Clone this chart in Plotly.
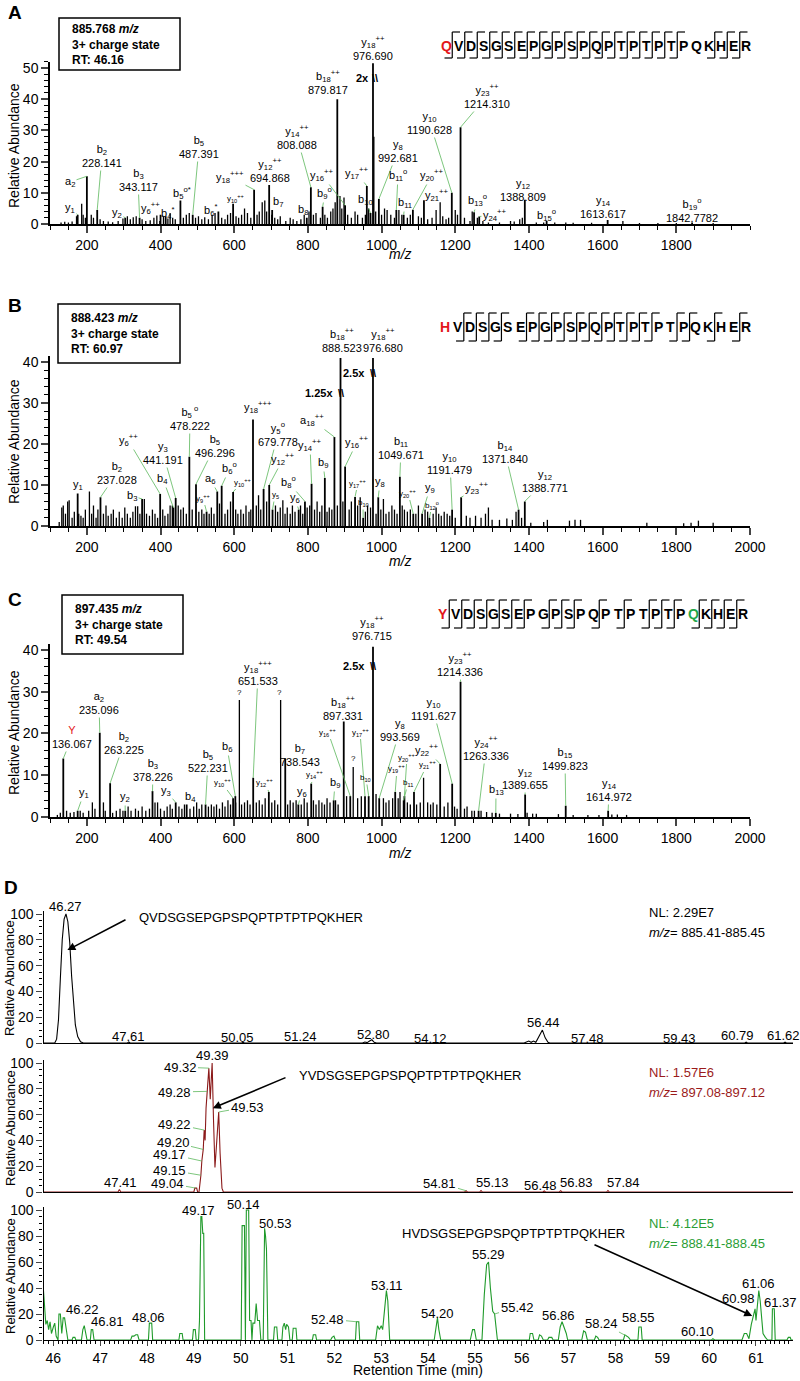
import plotly.graph_objects as go

W, H = 800, 1381
FONT = "Arial, 'Liberation Sans', sans-serif"
GREEN_LEAD = "#5cb85c"

# ======================= DATA =======================
# ---- Panel A : MS/MS of 885.768 (QVDSG...) ----
A_noise_mz = [130, 140, 150, 160, 172, 186, 190, 196, 212, 218, 236, 245, 258, 270, 285, 298, 310, 318, 326, 334,
              350, 360, 372, 382, 390, 398, 408, 420, 426, 433, 440, 462, 470, 478, 495, 503, 512, 520, 530, 540,
              548, 566, 575, 582, 590, 605, 612, 620, 628, 636, 645, 662, 668, 676, 683, 688, 702, 710, 718, 725,
              740, 752, 760, 770, 781, 790, 803, 815, 822, 834, 846, 853, 862, 868, 874, 887, 892, 898, 908, 918,
              928, 935, 948, 956, 965, 979, 984, 1000, 1008, 1015, 1025, 1035, 1047, 1055, 1070, 1078, 1100, 1108,
              1125, 1137, 1148, 1159, 1166, 1175, 1182, 1200, 1206, 1225, 1240, 1246, 1260, 1275, 1290, 1320, 1350,
              1360, 1375, 1382, 1420, 1440, 1470, 1500, 1520, 1570, 1655, 1700, 1750, 1800, 1900]
A_noise_int = [0.5, 0.7, 0.5, 0.8, 2.5, 6.5, 3, 2, 3, 2, 1.5, 1, 0.8, 0.6, 1, 1.8, 2.5, 1.5, 2.2, 2.5,
               1.5, 1, 1.2, 2, 2.7, 1, 2.5, 1.8, 3.5, 2, 1.5, 2, 3, 3.5, 2, 2.5, 1.5, 2.2, 1.5, 3,
               3.5, 2, 1.5, 3, 3.5, 2.5, 2, 3, 5, 3.5, 2, 3, 4, 7, 7.5, 4, 3, 2, 1.5, 2.5,
               1, 2, 1.5, 1, 1.5, 3, 4, 3, 3.5, 2, 3, 2, 4, 5, 7, 9, 5, 8.5, 3, 2,
               4, 3, 2, 3, 5, 28, 4, 3, 5, 4.5, 3, 2, 4.5, 3, 2, 3, 2.5, 2,
               1.5, 2, 4.5, 7, 2.5, 1.5, 2, 4.5, 3, 2, 1, 4, 2, 1, 0.5, 0.5, 1,
               0.8, 1.5, 2, 0.5, 0.5, 0.5, 0.5, 0.4, 0.4, 1.0, 0.3, 0.3, 0.3, 0.3]
A_ion_name = ["y<sub>1</sub>", "a<sub>2</sub>", "b<sub>2</sub>", "y<sub>2</sub>", "b<sub>3</sub>",
              "y<sub>6</sub><sup>++</sup>", "b<sub>4</sub><sup>*</sup>", "b<sub>5</sub><sup>o*</sup>", "b<sub>5</sub>",
              "b<sub>6</sub><sup>*</sup>", "y<sub>10</sub><sup>++</sup>", "y<sub>18</sub><sup>+++</sup>",
              "y<sub>12</sub><sup>++</sup>", "b<sub>7</sub>", "y<sub>14</sub><sup>++</sup>", "b<sub>8</sub>",
              "b<sub>9</sub><sup>o</sup>", "y<sub>16</sub><sup>++</sup>", "b<sub>18</sub><sup>++</sup>",
              "y<sub>17</sub><sup>++</sup>", "y<sub>18</sub><sup>++</sup>", "b<sub>10</sub>", "y<sub>8</sub>",
              "b<sub>11</sub><sup>o</sup>", "b<sub>11</sub>", "y<sub>20</sub><sup>++</sup>", "y<sub>21</sub><sup>++</sup>",
              "y<sub>10</sub>", "y<sub>23</sub><sup>++</sup>", "b<sub>13</sub><sup>o</sup>", "y<sub>24</sub><sup>++</sup>",
              "y<sub>12</sub>", "b<sub>15</sub><sup>o</sup>", "y<sub>14</sub>", "b<sub>19</sub><sup>o</sup>"]
A_ion_value = ["", "", "228.141", "", "343.117", "", "", "", "487.391", "", "", "", "694.868", "", "808.088", "",
               "", "", "879.817", "", "976.690", "", "992.681", "", "", "", "", "1190.628", "1214.310", "", "",
               "1388.809", "", "1613.617", "1842.7782"]
A_ion_mz = [175.1, 200.1, 228.141, 304.2, 343.117, 400.0, 414.0, 454.0, 487.391, 557.0, 597.0, 654.0, 694.868,
            703.0, 808.088, 797.0, 840.0, 901.0, 879.817, 960.0, 976.690, 970.0, 992.681, 1040.0, 1060.0, 1085.0,
            1115.0, 1190.628, 1214.310, 1251.0, 1265.0, 1388.809, 1448.0, 1613.617, 1842.778]
A_ion_int = [3.0, 15.3, 4.5, 2.0, 2.0, 3.0, 2.5, 7.5, 3.0, 4.0, 6.5, 11.0, 12.5, 4.5, 11.8, 2.0, 5.5, 6.0, 40.0,
             12.2, 51.5, 3.5, 8.0, 4.5, 3.0, 4.6, 7.6, 10.0, 31.0, 3.8, 2.4, 7.8, 1.0, 1.3, 0.5]
A_seq = "QVDSGSEPGPSPQPTPTPTPQKHER"
A_gaps = ["by"] * 19 + ["", ""] + ["by"] * 3
A_info = "885.768 <i>m/z</i><br>3+ charge state<br>RT: 46.16"

# ---- Panel B : MS/MS of 888.423 (HVDSG...) ----
B_noise_mz = [125, 132, 136, 142, 148, 152, 160, 166, 178, 184, 190, 196, 207, 213, 218, 225, 230, 245, 252, 258,
              266, 272, 280, 288, 296, 303, 310, 318, 325, 332, 338, 344, 356, 362, 370, 378, 385, 392, 406, 412,
              420, 426, 432, 448, 455, 462, 470, 486, 504, 512, 518, 532, 538, 545, 560, 575, 582, 590, 604, 610,
              618, 625, 632, 640, 645, 660, 666, 672, 688, 712, 718, 725, 732, 738, 744, 752, 758, 765, 780, 786,
              798, 805, 818, 825, 832, 838, 852, 858, 865, 880, 895, 912, 918, 935, 942, 956, 962, 970, 985, 998,
              1005, 1012, 1020, 1028, 1035, 1042, 1056, 1062, 1070, 1078, 1093, 1100, 1118, 1125, 1140, 1148, 1155,
              1162, 1170, 1178, 1185, 1200, 1230, 1240, 1255, 1270, 1282, 1290, 1300, 1320, 1340, 1355, 1365, 1380,
              1405, 1440, 1450, 1510, 1525, 1540, 1720, 1820, 1840, 1860, 1900]
B_noise_int = [1, 4.5, 5, 3, 6, 6.3, 2, 3.5, 3, 2.5, 2, 4, 8.4, 3, 5, 2, 4, 3, 5, 2.5,
               3, 4, 2, 3.5, 2, 4.5, 3, 2, 3.5, 4.8, 4.8, 3, 6.6, 3, 2.5, 4, 3, 2, 4, 2.5,
               3, 5, 5, 5, 4, 4.5, 3, 4, 3.5, 4, 3, 3, 4.5, 3, 5.5, 3, 4, 6, 4, 3,
               4, 3, 5, 3.5, 4, 5, 7.5, 4, 6, 5, 3.5, 4.5, 6.3, 3, 4.5, 3, 5, 3.5, 5, 3,
               4.5, 5, 4, 6, 3.5, 5, 3.5, 4.5, 4, 5, 6, 4, 6, 5, 7, 3.5, 5, 4.5, 3, 4,
               6.6, 3, 3.5, 5, 4, 3, 5, 4, 3.5, 4, 3, 5, 4, 3.5, 3, 4.5, 3,
               2.5, 3.5, 3, 2.5, 2, 2.5, 2, 2.5, 2, 3, 4.5, 1.5, 1.5, 1.8, 1.5, 3.5, 2,
               0.8, 1, 1.5, 1.3, 1.5, 1.5, 0.8, 0.7, 0.8, 1.3, 0.8]
B_ion_name = ["y<sub>1</sub>", "b<sub>2</sub>", "b<sub>3</sub>", "y<sub>6</sub><sup>++</sup>", "y<sub>3</sub>",
              "b<sub>4</sub>", "b<sub>5</sub><sup> o</sup>", "b<sub>5</sub>", "y<sub>9</sub><sup>++</sup>", "a<sub>6</sub>",
              "b<sub>6</sub><sup>o</sup>", "y<sub>10</sub><sup>++</sup>", "y<sub>18</sub><sup>+++</sup>",
              "y<sub>5</sub><sup>o</sup>", "y<sub>12</sub><sup>++</sup>", "y<sub>5</sub>", "y<sub>14</sub><sup>++</sup>",
              "b<sub>8</sub><sup>o</sup>", "y<sub>6</sub>", "b<sub>9</sub>", "a<sub>18</sub><sup>++</sup>",
              "b<sub>18</sub><sup>++</sup>", "y<sub>16</sub><sup>++</sup>", "y<sub>17</sub><sup>++</sup>", "b<sub>10</sub>",
              "y<sub>18</sub><sup>++</sup>", "y<sub>8</sub>", "b<sub>11</sub>", "y<sub>20</sub><sup>++</sup>",
              "y<sub>9</sub>", "b<sub>12</sub><sup>o</sup>", "y<sub>10</sub>", "y<sub>23</sub><sup>++</sup>",
              "b<sub>14</sub>", "y<sub>12</sub>"]
B_ion_value = ["", "237.028", "", "", "441.191", "", "478.222", "496.296", "", "", "", "", "", "679.778", "", "",
               "", "", "", "", "", "888.523", "", "", "", "976.680", "", "1049.671", "", "", "", "1191.479", "",
               "1371.840", "1388.771"]
B_ion_mz = [175.1, 237.028, 350.0, 399.0, 441.191, 435.0, 478.222, 496.296, 525.0, 554.0, 566.0, 597.0, 651.0,
            679.778, 695.0, 704.0, 810.0, 792.0, 775.0, 846.0, 872.0, 888.523, 901.0, 928.0, 950.0, 976.680, 991.0,
            1049.671, 1086.0, 1110.0, 1130.0, 1191.479, 1216.0, 1371.840, 1388.771]
B_ion_int = [7.9, 7.0, 6.6, 7.8, 6.8, 4.5, 16.9, 10.2, 3.5, 8.4, 9.8, 8.3, 26.0, 9.0, 10.0, 4.0, 10.3, 6.0, 4.0,
             11.7, 21.7, 41.0, 14.5, 7.1, 2.0, 41.0, 7.0, 12.0, 3.0, 3.0, 2.0, 4.0, 7.0, 4.0, 6.0]
B_seq = "HVDSGSEPGPSPQPTPTPTPQKHER"
B_gaps = ["", "by", "by", "by", "by", "", "by", "by", "by", "by", "by", "by", "by", "by", "by", "by", "by", "",
          "by", "by", "", "by", "", "by"]
B_info = "888.423 <i>m/z</i><br>3+ charge state<br>RT: 60.97"

# ---- Panel C : MS/MS of 897.435 (YVDSG...) ----
C_noise_mz = [120, 128, 145, 155, 165, 182, 190, 205, 215, 222, 245, 250, 270, 280, 290, 298, 312, 320, 332, 340,
              350, 360, 370, 385, 392, 400, 410, 418, 426, 432, 450, 458, 465, 480, 490, 498, 505, 512, 530, 538,
              545, 552, 560, 568, 575, 583, 590, 604, 614, 620, 628, 636, 643, 660, 668, 676, 684, 702, 710, 718,
              726, 745, 752, 760, 768, 782, 790, 798, 815, 822, 830, 838, 845, 852, 860, 875, 882, 905, 923, 935,
              945, 985, 1005, 1012, 1020, 1030, 1045, 1050, 1070, 1078, 1095, 1105, 1114, 1125, 1133, 1140, 1150,
              1170, 1180, 1198, 1205, 1225, 1232, 1245, 1252, 1270, 1285, 1300, 1320, 1350, 1370, 1395, 1410, 1420,
              1480, 1520, 1560, 1590, 1625, 1640, 1665]
C_noise_int = [0.5, 1, 1.5, 1, 1.2, 1.5, 1, 1.5, 3.5, 2, 3.5, 1.5, 1, 1.5, 2, 1.5, 2.5, 1.5, 2, 1.5,
               2.5, 1.5, 2, 3.5, 3.5, 2, 1.5, 2.5, 3, 2, 2.5, 2, 3, 2, 2.5, 3.5, 2, 3, 2.5, 3,
               2.5, 3, 2, 3.5, 2.5, 4, 3, 3.5, 28, 3, 3.5, 4, 3, 3.5, 4, 3, 4.5, 3.5, 4, 3,
               28, 3, 4, 3.5, 4, 3, 4.5, 3.5, 4, 3, 4, 3.5, 3, 4.5, 3.5, 4, 3, 5, 12, 4.5,
               5, 5.5, 4.5, 3.5, 4, 4.5, 4.5, 6, 3.5, 3, 3, 3.5, 9.4, 3.5, 3, 3.5, 3,
               2.5, 3.5, 2.5, 2, 2, 2.5, 1.5, 1.5, 1.5, 1.2, 1, 0.8, 0.8, 0.7, 1, 0.8, 0.8,
               0.7, 0.5, 0.5, 0.5, 0.6, 0.6, 0.5]
C_ion_name = ["<span style='color:#e3171b'>Y</span>", "y<sub>1</sub>", "a<sub>2</sub>", "b<sub>2</sub>",
              "y<sub>2</sub>", "b<sub>3</sub>", "y<sub>3</sub>", "b<sub>4</sub>", "b<sub>5</sub>", "b<sub>6</sub>",
              "y<sub>10</sub><sup>++</sup>", "y<sub>18</sub><sup>+++</sup>", "y<sub>12</sub><sup>++</sup>",
              "b<sub>7</sub>", "y<sub>6</sub>", "y<sub>14</sub><sup>++</sup>", "b<sub>9</sub>",
              "b<sub>18</sub><sup>++</sup>", "y<sub>16</sub><sup>++</sup>", "y<sub>17</sub><sup>++</sup>",
              "b<sub>10</sub>", "y<sub>18</sub><sup>++</sup>", "y<sub>8</sub>", "y<sub>19</sub><sup>++</sup>",
              "y<sub>20</sub><sup>++</sup>", "b<sub>11</sub>", "y<sub>21</sub><sup>++</sup>",
              "y<sub>22</sub><sup>++</sup>", "y<sub>10</sub>", "y<sub>23</sub><sup>++</sup>",
              "y<sub>24</sub><sup>++</sup>", "b<sub>13</sub>", "y<sub>12</sub>", "b<sub>15</sub>", "y<sub>14</sub>"]
C_ion_value = ["136.067", "", "235.096", "263.225", "", "378.226", "", "", "522.231", "", "", "651.533", "",
               "738.543", "", "", "", "897.331", "", "", "", "976.715", "993.569", "", "", "", "", "", "1191.627",
               "1214.336", "1263.336", "", "1389.655", "1499.823", "1614.972"]
C_ion_mz = [136.067, 175.1, 235.096, 263.225, 304.2, 378.226, 441.2, 471.0, 522.231, 603.0, 597.0, 651.533, 694.0,
            738.543, 774.0, 809.0, 870.0, 897.331, 915.0, 955.0, 965.0, 976.715, 993.569, 1037.0, 1062.0, 1060.0,
            1088.0, 1159.0, 1191.627, 1214.336, 1263.336, 1310.0, 1389.655, 1499.823, 1614.972]
C_ion_int = [14.0, 1.5, 20.2, 8.1, 1.5, 6.2, 3.5, 3.0, 3.0, 5.0, 4.5, 9.4, 6.0, 14.0, 3.0, 8.0, 4.0, 22.9, 5.0,
             5.0, 5.0, 40.8, 4.5, 6.0, 5.0, 4.0, 6.0, 12.7, 8.0, 32.4, 1.5, 1.0, 5.4, 2.7, 1.5]
C_seq = "YVDSGSEPGPSPQPTPTPTPQKHER"
C_gaps = ["by", "by", "by", "by", "by", "by", "by", "", "by", "by", "by", "", "by", "", "by", "", "by", "by", "by",
          "", "by", "by", "by", "by"]
C_info = "897.435 <i>m/z</i><br>3+ charge state<br>RT: 49.54"

# ---- Panel D : extracted ion chromatograms ----
D1_time = [45.79, 46.03, 46.07, 46.11, 46.15, 46.19, 46.23, 46.27, 46.31, 46.35, 46.39, 46.43, 46.47, 46.52, 46.58,
           46.64, 47.58, 47.61, 47.64, 50.02, 50.05, 50.08, 51.21, 51.24, 51.27, 52.6, 52.65, 52.7, 52.75, 52.8,
           52.85, 52.9, 54.09, 54.12, 54.15, 56.05, 56.1, 56.15, 56.2, 56.25, 56.3, 56.37, 56.44, 56.5, 56.56, 56.6,
           57.45, 57.48, 57.51, 59.4, 59.43, 59.46, 60.76, 60.79, 60.82, 61.59, 61.62, 61.65, 61.79]
D1_int = [0, 0, 3, 18, 50, 80, 96, 100, 94, 78, 52, 30, 14, 5, 1,
          0, 0, 0.8, 0, 0, 0.5, 0, 0, 0.5, 0, 0, 0.8, 0.3, 1.5, 2.5,
          0.5, 0, 0, 0.4, 0, 0, 0.8, 1.5, 0.5, 1.5, 0.5, 5, 10, 4, 0.5, 0,
          0, 0.4, 0, 0, 0.3, 0, 0, 0.6, 0, 0, 0.6, 0, 0]
D2_time = [45.79, 47.38, 47.41, 47.44, 49.0, 49.02, 49.06, 49.08, 49.11, 49.13, 49.15, 49.17, 49.20, 49.22, 49.24,
           49.26, 49.28, 49.30, 49.32, 49.35, 49.37, 49.39, 49.42, 49.45, 49.49, 49.53, 49.56, 49.6, 49.63, 54.78,
           54.81, 54.84, 55.10, 55.13, 55.16, 56.45, 56.48, 56.51, 56.80, 56.83, 56.86, 57.81, 57.84, 57.87, 61.79]
D2_int = [0, 0, 2, 0, 0, 3, 3, 0, 0, 5, 13, 24, 33, 48, 40,
          65, 78, 90, 96, 72, 90, 100, 55, 19, 40, 62, 30, 3, 0, 0,
          1, 0, 0, 1.2, 0, 0, 0.8, 0, 0, 1, 0, 0, 1.2, 0, 0]
D3_time = [45.79, 45.81, 45.84, 45.87, 45.9, 45.93, 45.96, 46.0, 46.03, 46.06, 46.1, 46.12, 46.15, 46.18, 46.21,
           46.24, 46.28, 46.31, 46.4, 46.42, 46.46, 46.48, 46.6, 46.63, 46.66, 46.69, 46.72, 46.79, 46.81, 46.84,
           46.87, 47.65, 47.68, 47.72, 47.76, 47.8, 47.83, 48.03, 48.05, 48.1, 48.12, 48.68, 48.7, 48.75, 48.77,
           48.97, 48.99, 49.03, 49.05, 49.1, 49.12, 49.15, 49.17, 49.19, 49.21, 49.23, 50.01, 50.03, 50.08, 50.1,
           50.12, 50.17, 50.19, 50.22, 50.24, 50.26, 50.3, 50.33, 50.36, 50.4, 50.43, 50.48, 50.51, 50.53, 50.55,
           50.58, 50.7, 50.72, 50.77, 50.79, 50.88, 50.9, 50.93, 50.96, 50.98, 51.02, 51.05, 51.1, 51.12, 51.18,
           51.2, 51.53, 51.55, 51.6, 51.62, 51.92, 51.95, 51.99, 52.02, 52.45, 52.47, 52.52, 52.54, 52.88, 52.92,
           52.96, 53.0, 53.03, 53.06, 53.11, 53.14, 53.18, 54.13, 54.17, 54.2, 54.23, 54.27, 54.9, 54.95, 54.99,
           55.03, 55.15, 55.2, 55.25, 55.29, 55.33, 55.38, 55.42, 55.45, 55.48, 56.16, 56.18, 56.23, 56.26, 56.35,
           56.38, 56.42, 56.46, 56.55, 56.58, 56.64, 56.67, 56.78, 56.82, 56.86, 56.9, 56.95, 56.98, 57.28, 57.32,
           57.36, 57.4, 57.55, 57.58, 57.62, 57.65, 58.17, 58.2, 58.24, 58.28, 58.32, 58.48, 58.5, 58.55, 58.57,
           60.05, 60.08, 60.12, 60.7, 60.75, 60.8, 60.85, 60.9, 60.95, 60.98, 61.0, 61.04, 61.06, 61.09, 61.12,
           61.15, 61.2, 61.25, 61.34, 61.35, 61.39, 61.41, 61.66, 61.69, 61.73, 61.75, 61.79]
D3_int = [38, 27, 12, 15, 8, 14, 5, 10, 13, 3, 0, 20, 20, 5, 17,
          17, 5, 0, 0, 2, 2, 0, 0, 8, 11, 6, 0, 0, 8, 8,
          0, 0, 3, 3, 4, 4, 0, 0, 13, 13, 0, 0, 5, 5, 0,
          0, 8, 8, 0, 0, 15, 95, 95, 82, 82, 0, 0, 88, 88, 0,
          100, 100, 15, 15, 0, 13, 13, 28, 15, 15, 0, 0, 86, 80, 70,
          0, 0, 10, 10, 0, 0, 10, 13, 8, 12, 10, 0, 0, 9, 9,
          0, 0, 4, 4, 0, 0, 2, 3, 0, 0, 14, 14, 0, 0, 11,
          8, 11, 8, 22, 38, 30, 0, 0, 12, 17, 8, 0, 0, 8, 8,
          0, 0, 35, 58, 60, 40, 22, 20, 8, 0, 0, 5, 5, 0, 0,
          4, 3, 0, 0, 2, 2, 0, 0, 10, 14, 10, 5, 0, 0, 7,
          6, 0, 0, 3, 2, 0, 0, 4, 3, 2, 0, 0, 10, 10, 0,
          0, 1, 0, 0, 5, 5, 1, 12, 20, 24, 15, 30, 38, 30, 15,
          5, 2, 0, 0, 24, 24, 0, 0, 2, 2, 0, 0]
D_seq_names = ["QVDSGSEPGPSPQPTPTPTPQKHER", "YVDSGSEPGPSPQPTPTPTPQKHER", "HVDSGSEPGPSPQPTPTPTPQKHER"]
D_nl = ["NL: 2.29E7", "NL: 1.57E6", "NL: 4.12E5"]
D_mzrange = ["885.41-885.45", "897.08-897.12", "888.41-888.45"]
D1_peak_lbl = ["46.27", "47.61", "50.05", "51.24", "52.80", "54.12", "56.44", "57.48", "59.43", "60.79", "61.62"]
D1_peak_int = [100, 0.8, 0.5, 0.5, 2.5, 0.4, 10, 0.4, 0.3, 0.6, 0.6]
D2_peak_lbl = ["49.39", "49.32", "49.28", "49.53", "49.22", "49.20", "49.17", "49.15", "49.04", "47.41", "54.81",
               "55.13", "56.48", "56.83", "57.84"]
D2_peak_int = [100, 96, 78, 62, 48, 33, 24, 13, 3, 2, 1, 1.2, 0.8, 1, 1.2]
D3_peak_lbl = ["49.17", "50.14", "50.53", "53.11", "46.22", "46.81", "48.06", "52.48", "54.20", "55.29", "55.42",
               "56.86", "58.24", "58.55", "60.10", "60.98", "61.06", "61.37"]
D3_peak_int = [95, 100, 86, 38, 17, 8, 13, 14, 17, 60, 20, 14, 3, 10, 1, 24, 38, 24]

# ======================= LAYOUT (pixel geometry) =======================
SX0, SX1 = 50, 750            # spectrum x-axis pixels
MZ0, MZ1 = 100, 2000
DX0, DX1 = 43.5, 793          # chromatogram x-axis pixels
T0, T1 = 45.79, 61.79

PAN = {
    "A": dict(base=224, scale=3.12, top=52),
    "B": dict(base=526, scale=4.1, top=41.5),
    "C": dict(base=817, scale=4.175, top=41.5),
    "D1": dict(base=1043, scale=1.29, top=102),
    "D2": dict(base=1192, scale=1.29, top=102),
    "D3": dict(base=1340, scale=1.3, top=102),
}


def ydom(p):
    b, s, t = p["base"], p["scale"], p["top"]
    return [1 - b / H, 1 - (b - t * s) / H]


def spx(mz):
    return SX0 + (mz - MZ0) * (SX1 - SX0) / (MZ1 - MZ0)


def dpx(t):
    return DX0 + (t - T0) * (DX1 - DX0) / (T1 - T0)


def ptext(px, py, text, size, color="black", xanchor="center", angle=0, align="center"):
    return dict(x=px / W, y=1 - py / H, xref="paper", yref="paper", text=text, showarrow=False,
                xanchor=xanchor, yanchor="middle", textangle=angle, align=align,
                font=dict(size=size, color=color, family=FONT))


A_lbl = [(70, 208, 1, 0), (70, 182, 1, 0), (102, 156, 1, 0), (117, 213, 1, 0), (138, 180, 1, 0), (150, 208, 1, 0),
         (168, 213, 1, 0), (182, 193, 0, 0), (199, 147, 1, 0), (210, 210, 1, 0), (235, 198, 1, 1), (230, 177, 1, 0),
         (270, 170, 1, 0), (278, 202, 1, 0), (297, 137, 1, 0), (303, 210, 1, 0), (325, 193, 1, 0), (322, 175, 1, 0),
         (328, 82, 0, 0), (357, 173, 1, 0), (373, 48, 0, 0), (365, 200, 1, 0), (398, 151, 1, 0), (398, 175, 1, 0),
         (405, 203, 1, 0), (432, 175, 1, 0), (437, 195, 1, 0), (430, 123, 1, 0), (487, 96, 1, 0), (478, 200, 1, 0),
         (495, 215, 1, 0), (523, 190, 1, 0), (547, 215, 1, 0), (603, 207, 1, 0), (692, 210, 1, 0)]
B_lbl = [(78, 485, 0, 0), (117, 473, 1, 0), (132, 496, 1, 0), (128, 440, 1, 0), (163, 453, 1, 0), (163, 479, 1, 0),
         (190, 418, 1, 0), (215, 446, 1, 0), (203, 498, 1, 1), (210, 479, 1, 0), (230, 468, 1, 0), (242, 482, 1, 1),
         (258, 407, 0, 0), (278, 434, 1, 0), (283, 459, 1, 0), (275, 495, 1, 1), (310, 445, 1, 0), (288, 482, 1, 0),
         (295, 498, 1, 0), (323, 463, 1, 0), (312, 420, 1, 0), (342, 340, 0, 0), (357, 442, 1, 0), (358, 483, 1, 1),
         (363, 503, 1, 1), (383, 340, 0, 0), (380, 482, 1, 0), (401, 448, 1, 0), (408, 493, 1, 1), (430, 488, 1, 0),
         (432, 505, 1, 1), (450, 463, 1, 0), (477, 488, 1, 0), (505, 452, 1, 0), (545, 481, 1, 0)]
C_lbl = [(72, 737, 1, 0), (84, 793, 1, 0), (99, 703, 1, 0), (124, 743, 1, 0), (125, 797, 1, 0), (153, 770, 1, 0),
         (166, 791, 1, 0), (191, 797, 1, 0), (208, 761, 1, 0), (227, 747, 1, 0), (222, 783, 1, 1), (258, 673, 1, 0),
         (265, 783, 1, 1), (300, 755, 1, 0), (302, 792, 1, 0), (315, 775, 1, 1), (335, 783, 1, 0), (343, 708, 1, 0),
         (328, 732, 1, 1), (360, 732, 1, 1), (366, 778, 1, 1), (372, 628, 0, 0), (400, 730, 1, 0), (397, 769, 1, 1),
         (407, 757, 1, 1), (408, 783, 1, 1), (427, 765, 1, 1), (427, 750, 1, 0), (433, 709, 1, 0), (460, 664, 1, 0),
         (486, 748, 1, 0), (496, 790, 1, 0), (525, 778, 1, 0), (565, 759, 1, 0), (609, 790, 1, 0)]

fig = go.Figure()
axes_spec = {"A": ("x", "y"), "B": ("x2", "y2"), "C": ("x3", "y3")}
axes_d = {"D1": ("x4", "y4"), "D2": ("x5", "y5"), "D3": ("x6", "y6")}
annotations = []
shapes = []


def add_sticks(mzs, ints, xa, ya, width=1.6):
    xs, ys = [], []
    for m, v in zip(mzs, ints):
        xs += [m, m, None]
        ys += [0, v, None]
    fig.add_trace(go.Scatter(x=xs, y=ys, mode="lines", xaxis=xa, yaxis=ya,
                             line=dict(color="black", width=width), hoverinfo="skip", showlegend=False))


def add_spectrum(key, noise_mz, noise_int, names, values, mzs, ints, lbl, seq, gaps, info, seq_geom,
                 info_box, red_idx, green_idx, breaks):
    xa, ya = axes_spec[key]
    p = PAN[key]
    add_sticks(noise_mz, noise_int, xa, ya, 1.3)
    add_sticks(mzs, ints, xa, ya, 1.8)
    for name, val, m, v, (lx, ly, lead, small) in zip(names, values, mzs, ints, lbl):
        txt = name + ("<br>" + val if val else "")
        fs = 8 if small else 11
        hx, hy = spx(m), p["base"] - v * p["scale"]
        if lead:
            annotations.append(dict(x=m, y=v, xref=xa, yref=ya, text=txt, showarrow=True, arrowhead=0,
                                    arrowwidth=0.8, arrowcolor=GREEN_LEAD, ax=lx - hx, ay=ly - hy, standoff=0,
                                    font=dict(size=fs, color="black", family=FONT), align="center"))
        else:
            annotations.append(ptext(lx, ly, txt, fs))
    for (bx, by, btxt) in breaks:
        annotations.append(ptext(bx, by, "<b>" + btxt + "</b>", 11, xanchor="right"))
    x0, y0, x1, y1 = info_box
    shapes.append(dict(type="rect", xref="paper", yref="paper", x0=x0 / W, x1=x1 / W, y0=1 - y1 / H,
                       y1=1 - y0 / H, line=dict(color="black", width=1.5)))
    annotations.append(ptext(x0 + 11, (y0 + y1) / 2, "<b>" + info + "</b>", 12, xanchor="left", align="left"))
    sx0, sx1, yc, ytop, ybot = seq_geom
    n = len(seq)
    step = (sx1 - sx0) / (n - 1)
    for i, ch in enumerate(seq):
        col = "black"
        if i == red_idx:
            col = "#e3171b"
        if i == green_idx:
            col = "#1fa84a"
        annotations.append(ptext(sx0 + i * step, yc, "<b>" + ch + "</b>", 14, color=col))
    hook = step * 0.62
    for i, g in enumerate(gaps):
        if not g:
            continue
        xs = sx0 + (i + 0.5) * step
        shapes.append(dict(type="line", xref="paper", yref="paper", x0=xs / W, x1=xs / W, y0=1 - ybot / H,
                           y1=1 - ytop / H, line=dict(color="black", width=1.2)))
        if "b" in g:
            shapes.append(dict(type="line", xref="paper", yref="paper", x0=xs / W, x1=(xs + hook) / W,
                               y0=1 - ytop / H, y1=1 - ytop / H, line=dict(color="black", width=1.2)))
        if "y" in g:
            shapes.append(dict(type="line", xref="paper", yref="paper", x0=(xs - hook) / W, x1=xs / W,
                               y0=1 - ybot / H, y1=1 - ybot / H, line=dict(color="black", width=1.2)))


add_spectrum("A", A_noise_mz, A_noise_int, A_ion_name, A_ion_value, A_ion_mz, A_ion_int, A_lbl, A_seq, A_gaps,
             A_info, (446, 746, 46, 32, 58), (59, 18, 180, 70), 0, -1,
             [(371, 78, "2x"), (380, 78, "\\\\")])
add_spectrum("B", B_noise_mz, B_noise_int, B_ion_name, B_ion_value, B_ion_mz, B_ion_int, B_lbl, B_seq, B_gaps,
             B_info, (445, 746, 327, 313, 341), (58, 304, 180, 363), 0, -1,
             [(335, 393, "1.25x"), (346, 393, "\\\\"), (367, 373, "2.5x"), (378, 373, "\\\\")])
add_spectrum("C", C_noise_mz, C_noise_int, C_ion_name, C_ion_value, C_ion_mz, C_ion_int, C_lbl, C_seq, C_gaps,
             C_info, (443, 743, 614, 600, 628), (62, 595, 183, 654), 0, 20,
             [(367, 666, "2.5x"), (378, 666, "\\\\")])

for qx, qy in [(239, 692), (279, 692), (353, 758)]:
    annotations.append(ptext(qx, qy, "?", 8))

# ---- chromatograms ----
D_col = ["black", "#8b1a1a", "#1f9a2a"]
D_txtcol = ["black", "#9b1b1b", "#2a9d35"]
for (key, tt, vv, col) in [("D1", D1_time, D1_int, D_col[0]), ("D2", D2_time, D2_int, D_col[1]),
                           ("D3", D3_time, D3_int, D_col[2])]:
    xa, ya = axes_d[key]
    fig.add_trace(go.Scatter(x=tt, y=vv, mode="lines", xaxis=xa, yaxis=ya, line=dict(color=col, width=1.1),
                             hoverinfo="skip", showlegend=False))

D1_pos = [(65, 906, 0), (128, 1036, 0), (237, 1037, 0), (300, 1036, 0), (373, 1034, 0), (430, 1038, 0),
          (543, 1022, 0), (587, 1038, 0), (679, 1038, 0), (737, 1035, 0), (783, 1035, 0)]
D2_pos = [(212, 1055, 0), (180, 1067, 1), (175, 1092, 1), (247, 1107, 1), (175, 1124, 1), (173, 1142, 1),
          (170, 1154, 1), (170, 1170, 1), (168, 1183, 1), (120, 1182, 0), (440, 1183, 1), (492, 1182, 0),
          (540, 1185, 0), (576, 1182, 1), (623, 1182, 0)]
D3_pos = [(198, 1210, 0), (243, 1204, 0), (275, 1223, 0), (387, 1285, 0), (83, 1309, 1), (108, 1321, 1),
          (148, 1317, 0), (328, 1319, 1), (437, 1313, 0), (488, 1254, 0), (517, 1307, 1), (558, 1315, 0),
          (602, 1323, 1), (638, 1317, 0), (697, 1331, 0), (738, 1298, 0), (758, 1283, 0), (780, 1302, 0)]

for key, labels, ints, pos in [("D1", D1_peak_lbl, D1_peak_int, D1_pos), ("D2", D2_peak_lbl, D2_peak_int, D2_pos),
                               ("D3", D3_peak_lbl, D3_peak_int, D3_pos)]:
    xa, ya = axes_d[key]
    p = PAN[key]
    for lab, v, (lx, ly, lead) in zip(labels, ints, pos):
        t = float(lab)
        if lead:
            hx, hy = dpx(t), p["base"] - v * p["scale"]
            annotations.append(dict(x=t, y=v, xref=xa, yref=ya, text=lab, showarrow=True, arrowhead=0,
                                    arrowwidth=0.8, arrowcolor=GREEN_LEAD, ax=lx - hx, ay=ly - hy, standoff=0,
                                    font=dict(size=13, color="black", family=FONT)))
        else:
            annotations.append(ptext(lx, ly, lab, 13))

seq_text_pos = [(137, 917), (297, 1075), (400, 1233)]
seq_arrow = [((127, 919), ("D1", 46.3, 72)), ((287, 1077), ("D2", 49.405, 65)), ((593, 1244), ("D3", 60.92, 18.5))]
for name, (tx, ty), ((ax0, ay0), (key, t, v)) in zip(D_seq_names, seq_text_pos, seq_arrow):
    annotations.append(ptext(tx, ty, name, 13, xanchor="left"))
    xa, ya = axes_d[key]
    p = PAN[key]
    hx, hy = dpx(t), p["base"] - v * p["scale"]
    annotations.append(dict(x=t, y=v, xref=xa, yref=ya, text="", showarrow=True, arrowhead=2, arrowsize=1,
                            arrowwidth=1.6, arrowcolor="black", ax=ax0 - hx, ay=ay0 - hy, standoff=0))

nl_y = [(912, 932), (1072, 1092), (1223, 1243)]
for nl, rng, (y1, y2), col in zip(D_nl, D_mzrange, nl_y, D_txtcol):
    annotations.append(ptext(647, y1, nl, 13, color=col, xanchor="left"))
    annotations.append(ptext(647, y2, "<i>m/z</i>= " + rng, 13, color=col, xanchor="left"))

for letter, (lx, ly) in zip("ABCD", [(15, 13), (15, 305), (15, 599), (11, 888)]):
    annotations.append(ptext(lx, ly, "<b>" + letter + "</b>", 19))

for cy in [146, 442, 733]:
    annotations.append(ptext(14, cy, "Relative Abundance", 14, angle=-90))
for cy in [978, 1128, 1276]:
    annotations.append(ptext(10, cy, "Relative Abundance", 13, angle=-90))
for cy in [254, 561, 853]:
    annotations.append(ptext(400, cy, "<i>m/z</i>", 14))
annotations.append(ptext(418, 1370, "Retention Time (min)", 14))

# ---- axes ----
tickfont = dict(size=14, color="black", family=FONT)
layout_axes = {}
for i, key in enumerate(["A", "B", "C"], start=1):
    sfx = "" if i == 1 else str(i)
    tv = list(range(200, 1801 if key == "A" else 2001, 200))
    layout_axes["xaxis" + sfx] = dict(domain=[SX0 / W, SX1 / W], range=[MZ0, MZ1], anchor="y" + sfx,
                                      tickmode="array", tickvals=tv, ticks="outside", ticklen=7, tickwidth=1.5,
                                      showline=True, linewidth=1.5, linecolor="black", showgrid=False,
                                      zeroline=False, tickfont=tickfont, automargin=False,
                                      minor=dict(tick0=0, dtick=50, ticks="outside", ticklen=4, tickwidth=1.2,
                                                 tickcolor="black", showgrid=False))
    p = PAN[key]
    layout_axes["yaxis" + sfx] = dict(domain=ydom(p), range=[0, p["top"]], anchor="x" + sfx, tickmode="array",
                                      tickvals=list(range(0, int(p["top"]) + 1, 10)), ticks="outside", ticklen=7,
                                      tickwidth=1.5, showline=True, linewidth=1.5, linecolor="black",
                                      showgrid=False, zeroline=False, tickfont=tickfont, automargin=False,
                                      minor=dict(tick0=0, dtick=2, ticks="outside", ticklen=4, tickwidth=1.2,
                                                 tickcolor="black", showgrid=False))
for i, key in zip([4, 5, 6], ["D1", "D2", "D3"]):
    sfx = str(i)
    p = PAN[key]
    xa = dict(domain=[DX0 / W, DX1 / W], range=[T0, T1], anchor="y" + sfx, showline=True, linewidth=1.3,
              linecolor="black", showgrid=False, zeroline=False, automargin=False)
    if key == "D3":
        xa.update(tickmode="linear", tick0=46, dtick=1, ticks="outside", ticklen=5, tickwidth=1.2,
                  tickfont=tickfont,
                  minor=dict(tick0=45.8, dtick=0.1, ticks="outside", ticklen=3, tickwidth=1, tickcolor="black",
                             showgrid=False))
    else:
        xa.update(ticks="", showticklabels=False)
    layout_axes["xaxis" + sfx] = xa
    layout_axes["yaxis" + sfx] = dict(domain=ydom(p), range=[0, p["top"]], anchor="x" + sfx, tickmode="array",
                                      tickvals=[0, 20, 40, 60, 80, 100], ticks="outside", ticklen=6,
                                      tickwidth=1.2, showline=True, linewidth=1.3, linecolor="black",
                                      showgrid=False, zeroline=False, tickfont=tickfont, automargin=False,
                                      minor=dict(tick0=0, dtick=5, ticks="outside", ticklen=3, tickwidth=1,
                                                 tickcolor="black", showgrid=False))

fig.update_layout(width=W, height=H, margin=dict(l=0, r=0, t=0, b=0, pad=0), plot_bgcolor="white",
                  paper_bgcolor="white", showlegend=False, annotations=annotations, shapes=shapes,
                  hovermode=False, font=dict(family=FONT, color="black"), **layout_axes)

fig.write_html("out.html", config={"displayModeBar": False},
               post_script="document.body.style.margin='0px';")
